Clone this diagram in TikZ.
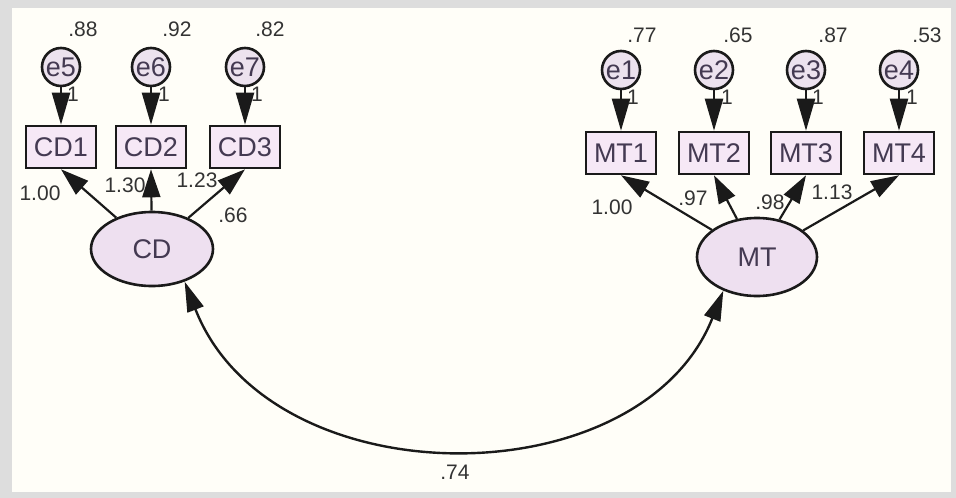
\documentclass[tikz,border=0pt]{standalone}
\usepackage{fontspec}
\setmainfont{Liberation Sans}
\usetikzlibrary{arrows.meta,shapes.geometric}
\definecolor{framegray}{HTML}{DDDDDD}
\definecolor{bg}{HTML}{FFFEF8}
\definecolor{linec}{HTML}{1A1A1A}
\definecolor{boxfill}{HTML}{F6E8F6}
\definecolor{latfill}{HTML}{EEE0F0}
\definecolor{errfill}{HTML}{ECE2EE}
\definecolor{txt}{HTML}{443A52}
\definecolor{numc}{HTML}{333333}
\begin{document}
\begin{tikzpicture}[x=1pt,y=-1pt,
  obs/.style={draw=linec, line width=2.6pt, fill=boxfill, minimum width=70pt, minimum height=42pt, inner sep=0pt, font=\fontsize{27}{27}\selectfont, text=txt},
  err/.style={circle, draw=linec, line width=2.6pt, fill=errfill, minimum size=38pt, inner sep=0pt, font=\fontsize{27}{27}\selectfont, text=txt},
  lat/.style={ellipse, draw=linec, line width=2.6pt, fill=latfill, inner sep=0pt, font=\fontsize{27}{27}\selectfont, text=txt},
  num/.style={font=\fontsize{21}{21}\selectfont, text=numc, inner sep=0pt},
  errarrow/.style={draw=linec, line width=2.2pt, -{Triangle[length=32pt,width=18pt]}},
  loadarrow/.style={draw=linec, line width=2.2pt, -{Triangle[length=28pt,width=18pt]}},
  covarrow/.style={draw=linec, line width=2.4pt, {Triangle[length=30pt,width=17pt]}-{Triangle[length=30pt,width=17pt]}}
]
\useasboundingbox (0,0) rectangle (956,498);
\fill[framegray] (0,0) rectangle (956,498);
\fill[bg] (12,8) rectangle (951,492);

% observed variables
\node[obs] (CD1) at (61,147) {CD1};
\node[obs] (CD2) at (151,147) {CD2};
\node[obs] (CD3) at (245,147) {CD3};
\node[obs] (MT1) at (621,153) {MT1};
\node[obs] (MT2) at (714,153) {MT2};
\node[obs] (MT3) at (806,153) {MT3};
\node[obs] (MT4) at (899,153) {MT4};

% error terms
\node[err] (e5) at (61,67) {e5};
\node[err] (e6) at (151,67) {e6};
\node[err] (e7) at (245,67) {e7};
\node[err] (e1) at (621,70) {e1};
\node[err] (e2) at (714,70) {e2};
\node[err] (e3) at (806,70) {e3};
\node[err] (e4) at (899,70) {e4};

% latent variables
\node[lat, minimum width=122pt, minimum height=74pt] (CD) at (152,249) {CD};
\node[lat, minimum width=120pt, minimum height=78pt] (MT) at (757,257) {MT};

% error arrows
\foreach \e/\b in {e5/CD1,e6/CD2,e7/CD3,e1/MT1,e2/MT2,e3/MT3,e4/MT4}
  \draw[errarrow] (\e) -- (\b);

% loading arrows
\foreach \b in {CD1,CD2,CD3}
  \draw[loadarrow] (CD) -- (\b.south);
\foreach \b in {MT1,MT2,MT3,MT4}
  \draw[loadarrow] (MT) -- (\b.south);

% covariance
\draw[covarrow] (CD.-45) .. controls (270,500) and (640,500) .. (MT.-135);

% variances
\node[num] (v5) at (83,29) {.88};
\node[num] (v6) at (177,29) {.92};
\node[num] (v7) at (270,29) {.82};
\node[num] (v1) at (642,35) {.77};
\node[num] (v2) at (738,35) {.65};
\node[num] (v3) at (833,35) {.87};
\node[num] (v4) at (927,35) {.53};

% fixed 1 labels
\node[num] (o5) at (73,94) {1};
\node[num] (o6) at (164,94) {1};
\node[num] (o7) at (257,94) {1};
\node[num] (o1) at (633,97) {1};
\node[num] (o2) at (727,97) {1};
\node[num] (o3) at (818,97) {1};
\node[num] (o4) at (912,97) {1};

% loadings
\node[num] (l1) at (40,193) {1.00};
\node[num] (l2) at (125,185) {1.30};
\node[num] (l3) at (197,180) {1.23};
\node[num] (l4) at (233,215) {.66};
\node[num] (m1) at (612,207) {1.00};
\node[num] (m2) at (693,198) {.97};
\node[num] (m3) at (770,202) {.98};
\node[num] (m4) at (832,192) {1.13};

\node[num] (cov) at (455,472) {.74};
\end{tikzpicture}
\end{document}
